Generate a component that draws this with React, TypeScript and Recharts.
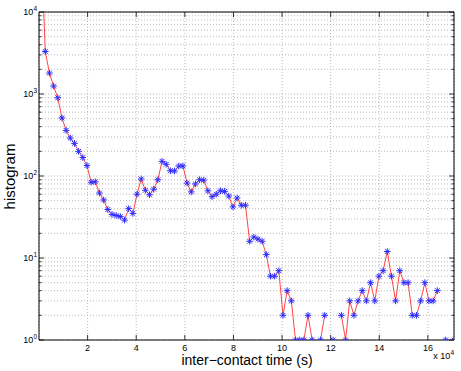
import { LineChart, Line, XAxis, YAxis, CartesianGrid, ReferenceArea } from "recharts";

// histogram of inter-contact times, 100 bins (bin width in seconds)
const BIN_WIDTH = 1716;

// counts per bin, null = empty bin (no point on a log axis)
const counts: (number | null)[] = [
  75000, 3300, 1800, 1250, 900, 510, 360, 290, 250, 200,
  168, 134, 84, 85, 62, 51, 39, 34, 33, 32,
  29, 40, 35, 60, 92, 67, 59, 69, 90, 151,
  139, 116, 115, 132, 133, 82, 64, 80, 90, 89,
  66, 56, 60, 66, 65, 57, 42, 54, 44, 44,
  16, 18, 17, 16, 11, 6, 6, 7, 2, 4,
  3, 1, 1, 1, 2, 1, null, 1, 2, null,
  1, null, 2, 1, 3, 2, 3, 4, 3, 5,
  3, 6, 7, 12, 6, 3, 7, 5, 5, 2,
  2, 3, 5, 3, 3, 4, null, 1, null, 1,
];

const X_TICKS = [20000, 40000, 60000, 80000, 100000, 120000, 140000, 160000];
const X_TICK_LABELS = ["2", "4", "6", "8", "10", "12", "14", "16"];

const Y_TICKS = [
  1, 2, 3, 4, 5, 6, 7, 8, 9,
  10, 20, 30, 40, 50, 60, 70, 80, 90,
  100, 200, 300, 400, 500, 600, 700, 800, 900,
  1000, 2000, 3000, 4000, 5000, 6000, 7000, 8000, 9000,
  10000,
];
const Y_MAJOR: Record<number, string> = { 1: "0", 10: "1", 100: "2", 1000: "3", 10000: "4" };

const data = counts.map((c, i) => ({ t: BIN_WIDTH * (i + 0.5), count: c }));
const X_MAX = data[data.length - 1].t;

const W = 461;
const H = 371;
const PLOT_W = 415;
const PLOT_H = 328;
const FONT = "'Liberation Sans', Arial, Helvetica, sans-serif";

function XTick({ x, y, payload }: any) {
  const i = X_TICKS.indexOf(payload.value);
  return (
    <g>
      <line x1={x} x2={x} y1={y} y2={y - 5} stroke="#000" strokeWidth={0.8} />
      <line x1={x} x2={x} y1={y - PLOT_H} y2={y - PLOT_H + 5} stroke="#000" strokeWidth={0.8} />
      <text x={x} y={y + 11} textAnchor="middle" fontSize={9} fontFamily={FONT} fill="#000">
        {X_TICK_LABELS[i]}
      </text>
    </g>
  );
}

function YTick({ x, y, payload }: any) {
  const exp = Y_MAJOR[payload.value];
  const len = exp !== undefined ? 5 : 2.5;
  return (
    <g>
      <line x1={x} x2={x + len} y1={y} y2={y} stroke="#000" strokeWidth={0.8} />
      <line x1={x + PLOT_W} x2={x + PLOT_W - len} y1={y} y2={y} stroke="#000" strokeWidth={0.8} />
      {exp !== undefined && (
        <text x={x - 2} y={y + 3.3} textAnchor="end" fontSize={9} fontFamily={FONT} fill="#000">
          10
          <tspan dy={-4.5} fontSize={6.5}>{exp}</tspan>
        </text>
      )}
    </g>
  );
}

function Asterisk({ cx, cy, index }: any) {
  if (cx == null || cy == null) return <g key={index} />;
  const r = 3.3;
  const d = r * 0.72;
  return (
    <g key={index} stroke="#2b2bff" strokeWidth={1}>
      <line x1={cx - r} x2={cx + r} y1={cy} y2={cy} />
      <line x1={cx} x2={cx} y1={cy - r} y2={cy + r} />
      <line x1={cx - d} x2={cx + d} y1={cy - d} y2={cy + d} />
      <line x1={cx - d} x2={cx + d} y1={cy + d} y2={cy - d} />
    </g>
  );
}

export default function App() {
  return (
    <div style={{ position: "absolute", left: 0, top: 0, width: W, height: H, background: "#fff" }}>
      <LineChart width={W} height={H} data={data} margin={{ top: 12, right: 7, bottom: 0, left: 0 }}>
        <CartesianGrid stroke="#a8a8a8" strokeDasharray="1 2" strokeWidth={0.8} />
        <XAxis
          dataKey="t"
          type="number"
          domain={[0, X_MAX]}
          allowDataOverflow
          ticks={X_TICKS}
          interval={0}
          height={31}
          tickSize={0}
          tickMargin={0}
          axisLine={false}
          tickLine={false}
          tick={<XTick />}
        />
        <YAxis
          type="number"
          scale="log"
          domain={[1, 10000]}
          allowDataOverflow
          ticks={Y_TICKS}
          interval={0}
          width={39}
          tickSize={0}
          tickMargin={0}
          axisLine={false}
          tickLine={false}
          tick={<YTick />}
        />
        <ReferenceArea x1={0} x2={X_MAX} y1={1} y2={10000} fill="none" stroke="#000" strokeWidth={1} />
        <Line
          dataKey="count"
          type="linear"
          stroke="#ff3030"
          strokeWidth={0.9}
          connectNulls={false}
          dot={(p: any) => <Asterisk key={p.index} {...p} />}
          activeDot={false}
          isAnimationActive={false}
        />
      </LineChart>
      <svg width={W} height={H} style={{ position: "absolute", left: 0, top: 0, pointerEvents: "none" }}>
        <text x={247} y={365} textAnchor="middle" fontSize={14} fontFamily={FONT} fill="#000">
          inter−contact time (s)
        </text>
        <text x={15} y={176.5} textAnchor="middle" fontSize={15} fontFamily={FONT} fill="#000"
          transform="rotate(-90 15 176.5)">
          histogram
        </text>
        <text x={454} y={359} textAnchor="end" fontSize={9} fontFamily={FONT} fill="#000">
          x 10<tspan dy={-4.5} fontSize={6.5}>4</tspan>
        </text>
      </svg>
    </div>
  );
}
